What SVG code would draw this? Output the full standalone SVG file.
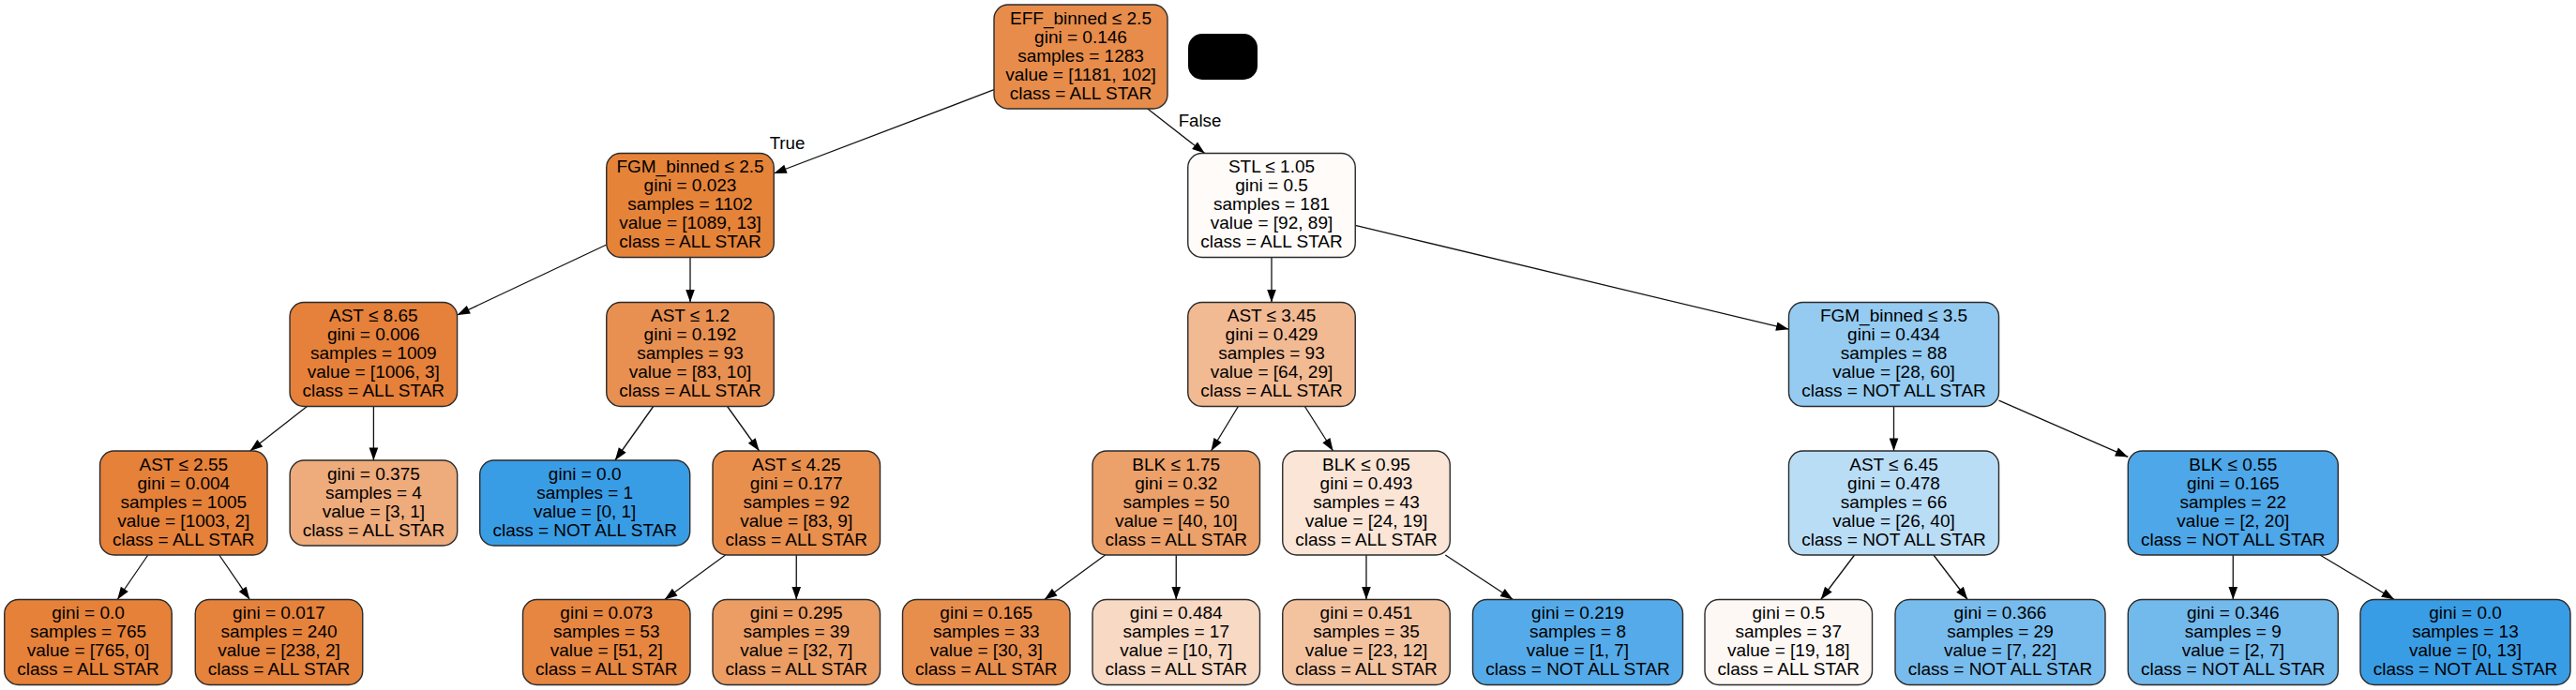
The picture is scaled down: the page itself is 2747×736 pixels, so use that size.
<svg xmlns="http://www.w3.org/2000/svg" width="2747" height="736" viewBox="0 0 2747 736">
<style>
.node rect{stroke:#2b2b2b;stroke-width:1.4}
text{font-family:"Liberation Sans",Arial,sans-serif;font-size:19px;fill:#000;text-anchor:middle}
.lbl{font-size:18.7px}
.edges line{stroke:#111;stroke-width:1.3;fill:none}
</style>
<defs>
<marker id="arr" markerWidth="14" markerHeight="10" refX="13.5" refY="5" orient="auto" markerUnits="userSpaceOnUse" overflow="visible">
<path d="M0,0.2 L13.5,5 L0,9.8 Z" fill="#000"/>
</marker>
</defs>
<rect width="2747" height="736" fill="#fff"/>
<g id="connectors" class="edges" marker-end="url(#arr)">
<line x1="1060" y1="95.7" x2="825.3" y2="185" marker-end="url(#arr)"/>
<line x1="1223.8" y1="116" x2="1284.7" y2="163.5" marker-end="url(#arr)"/>
<line x1="646.75" y1="261" x2="487.6" y2="336" marker-end="url(#arr)"/>
<line x1="736" y1="274.5" x2="736" y2="322.5" marker-end="url(#arr)"/>
<line x1="327.4" y1="433.5" x2="266.7" y2="481" marker-end="url(#arr)"/>
<line x1="398.4" y1="433.5" x2="398.4" y2="491" marker-end="url(#arr)"/>
<line x1="157.8" y1="592" x2="125.2" y2="639.5" marker-end="url(#arr)"/>
<line x1="233.8" y1="592" x2="266.3" y2="639.5" marker-end="url(#arr)"/>
<line x1="696.7" y1="433.5" x2="655.9" y2="491" marker-end="url(#arr)"/>
<line x1="775.6" y1="433.5" x2="809.6" y2="481" marker-end="url(#arr)"/>
<line x1="773.6" y1="592" x2="708.8" y2="639.5" marker-end="url(#arr)"/>
<line x1="849.25" y1="592" x2="849.25" y2="639.5" marker-end="url(#arr)"/>
<line x1="1356" y1="274.5" x2="1356" y2="322.5" marker-end="url(#arr)"/>
<line x1="1445.25" y1="240.4" x2="1907.5" y2="351.2" marker-end="url(#arr)"/>
<line x1="1320.4" y1="433.5" x2="1291.5" y2="481" marker-end="url(#arr)"/>
<line x1="1391.4" y1="433.5" x2="1421.6" y2="481" marker-end="url(#arr)"/>
<line x1="1178.6" y1="592" x2="1113.8" y2="639.5" marker-end="url(#arr)"/>
<line x1="1254.25" y1="592" x2="1254.25" y2="639.5" marker-end="url(#arr)"/>
<line x1="1457" y1="592" x2="1457" y2="639.5" marker-end="url(#arr)"/>
<line x1="1541.3" y1="592" x2="1613.4" y2="639.5" marker-end="url(#arr)"/>
<line x1="2019.5" y1="433.5" x2="2019.5" y2="481" marker-end="url(#arr)"/>
<line x1="2131.5" y1="427.1" x2="2269.3" y2="487.4" marker-end="url(#arr)"/>
<line x1="1977.6" y1="592" x2="1941.7" y2="639.5" marker-end="url(#arr)"/>
<line x1="2061.9" y1="592" x2="2098.2" y2="639.5" marker-end="url(#arr)"/>
<line x1="2381.3" y1="592" x2="2381.3" y2="639.5" marker-end="url(#arr)"/>
<line x1="2474" y1="592" x2="2553.2" y2="639.5" marker-end="url(#arr)"/>
<text class="lbl" x="839.5" y="159">True</text>
<text class="lbl" x="1279.5" y="135">False</text>
</g>
<g id="legend-blob"><rect x="1267" y="36" width="74" height="49" rx="15" fill="#000"/></g>
<g id="n0" class="node"><rect x="1060" y="5" width="185" height="111" rx="15" fill="#e78c4a"/>
<text x="1152.5" y="25.7">EFF_binned ≤ 2.5</text><text x="1152.5" y="45.7">gini = 0.146</text><text x="1152.5" y="65.7">samples = 1283</text><text x="1152.5" y="85.7">value = [1181, 102]</text><text x="1152.5" y="105.7">class = ALL STAR</text></g>
<g id="n1" class="node"><rect x="646.75" y="163.5" width="178.5" height="111" rx="15" fill="#e58339"/>
<text x="736" y="184.2">FGM_binned ≤ 2.5</text><text x="736" y="204.2">gini = 0.023</text><text x="736" y="224.2">samples = 1102</text><text x="736" y="244.2">value = [1089, 13]</text><text x="736" y="264.2">class = ALL STAR</text></g>
<g id="n2" class="node"><rect x="309.05" y="322.5" width="178.5" height="111" rx="15" fill="#e5813a"/>
<text x="398.3" y="343.2">AST ≤ 8.65</text><text x="398.3" y="363.2">gini = 0.006</text><text x="398.3" y="383.2">samples = 1009</text><text x="398.3" y="403.2">value = [1006, 3]</text><text x="398.3" y="423.2">class = ALL STAR</text></g>
<g id="n3" class="node"><rect x="106.55" y="481" width="178.5" height="111" rx="15" fill="#e58139"/>
<text x="195.8" y="501.7">AST ≤ 2.55</text><text x="195.8" y="521.7">gini = 0.004</text><text x="195.8" y="541.7">samples = 1005</text><text x="195.8" y="561.7">value = [1003, 2]</text><text x="195.8" y="581.7">class = ALL STAR</text></g>
<g id="n4" class="node"><rect x="4.75" y="639.5" width="178.5" height="91" rx="15" fill="#e58139"/>
<text x="94" y="660">gini = 0.0</text><text x="94" y="680">samples = 765</text><text x="94" y="700">value = [765, 0]</text><text x="94" y="720">class = ALL STAR</text></g>
<g id="n5" class="node"><rect x="208.25" y="639.5" width="178.5" height="91" rx="15" fill="#e5823b"/>
<text x="297.5" y="660">gini = 0.017</text><text x="297.5" y="680">samples = 240</text><text x="297.5" y="700">value = [238, 2]</text><text x="297.5" y="720">class = ALL STAR</text></g>
<g id="n6" class="node"><rect x="309.15" y="491" width="178.5" height="91" rx="15" fill="#eeab7b"/>
<text x="398.4" y="511.5">gini = 0.375</text><text x="398.4" y="531.5">samples = 4</text><text x="398.4" y="551.5">value = [3, 1]</text><text x="398.4" y="571.5">class = ALL STAR</text></g>
<g id="n7" class="node"><rect x="646.75" y="322.5" width="178.5" height="111" rx="15" fill="#e89051"/>
<text x="736" y="343.2">AST ≤ 1.2</text><text x="736" y="363.2">gini = 0.192</text><text x="736" y="383.2">samples = 93</text><text x="736" y="403.2">value = [83, 10]</text><text x="736" y="423.2">class = ALL STAR</text></g>
<g id="n8" class="node"><rect x="511.7" y="491" width="224" height="91" rx="15" fill="#399de5"/>
<text x="623.7" y="511.5">gini = 0.0</text><text x="623.7" y="531.5">samples = 1</text><text x="623.7" y="551.5">value = [0, 1]</text><text x="623.7" y="571.5">class = NOT ALL STAR</text></g>
<g id="n9" class="node"><rect x="760" y="481" width="178.5" height="111" rx="15" fill="#e88f4e"/>
<text x="849.25" y="501.7">AST ≤ 4.25</text><text x="849.25" y="521.7">gini = 0.177</text><text x="849.25" y="541.7">samples = 92</text><text x="849.25" y="561.7">value = [83, 9]</text><text x="849.25" y="581.7">class = ALL STAR</text></g>
<g id="n10" class="node"><rect x="557.5" y="639.5" width="178.5" height="91" rx="15" fill="#e68641"/>
<text x="646.75" y="660">gini = 0.073</text><text x="646.75" y="680">samples = 53</text><text x="646.75" y="700">value = [51, 2]</text><text x="646.75" y="720">class = ALL STAR</text></g>
<g id="n11" class="node"><rect x="760" y="639.5" width="178.5" height="91" rx="15" fill="#eb9d64"/>
<text x="849.25" y="660">gini = 0.295</text><text x="849.25" y="680">samples = 39</text><text x="849.25" y="700">value = [32, 7]</text><text x="849.25" y="720">class = ALL STAR</text></g>
<g id="n12" class="node"><rect x="1266.75" y="163.5" width="178.5" height="111" rx="15" fill="#fefbf9"/>
<text x="1356" y="184.2">STL ≤ 1.05</text><text x="1356" y="204.2">gini = 0.5</text><text x="1356" y="224.2">samples = 181</text><text x="1356" y="244.2">value = [92, 89]</text><text x="1356" y="264.2">class = ALL STAR</text></g>
<g id="n13" class="node"><rect x="1266.75" y="322.5" width="178.5" height="111" rx="15" fill="#f1ba93"/>
<text x="1356" y="343.2">AST ≤ 3.45</text><text x="1356" y="363.2">gini = 0.429</text><text x="1356" y="383.2">samples = 93</text><text x="1356" y="403.2">value = [64, 29]</text><text x="1356" y="423.2">class = ALL STAR</text></g>
<g id="n14" class="node"><rect x="1165" y="481" width="178.5" height="111" rx="15" fill="#eca06a"/>
<text x="1254.25" y="501.7">BLK ≤ 1.75</text><text x="1254.25" y="521.7">gini = 0.32</text><text x="1254.25" y="541.7">samples = 50</text><text x="1254.25" y="561.7">value = [40, 10]</text><text x="1254.25" y="581.7">class = ALL STAR</text></g>
<g id="n15" class="node"><rect x="962.5" y="639.5" width="178.5" height="91" rx="15" fill="#e88e4d"/>
<text x="1051.75" y="660">gini = 0.165</text><text x="1051.75" y="680">samples = 33</text><text x="1051.75" y="700">value = [30, 3]</text><text x="1051.75" y="720">class = ALL STAR</text></g>
<g id="n16" class="node"><rect x="1165" y="639.5" width="178.5" height="91" rx="15" fill="#f7d9c4"/>
<text x="1254.25" y="660">gini = 0.484</text><text x="1254.25" y="680">samples = 17</text><text x="1254.25" y="700">value = [10, 7]</text><text x="1254.25" y="720">class = ALL STAR</text></g>
<g id="n17" class="node"><rect x="1367.75" y="481" width="178.5" height="111" rx="15" fill="#fae5d6"/>
<text x="1457" y="501.7">BLK ≤ 0.95</text><text x="1457" y="521.7">gini = 0.493</text><text x="1457" y="541.7">samples = 43</text><text x="1457" y="561.7">value = [24, 19]</text><text x="1457" y="581.7">class = ALL STAR</text></g>
<g id="n18" class="node"><rect x="1367.75" y="639.5" width="178.5" height="91" rx="15" fill="#f3c3a0"/>
<text x="1457" y="660">gini = 0.451</text><text x="1457" y="680">samples = 35</text><text x="1457" y="700">value = [23, 12]</text><text x="1457" y="720">class = ALL STAR</text></g>
<g id="n19" class="node"><rect x="1570.5" y="639.5" width="224" height="91" rx="15" fill="#55abe9"/>
<text x="1682.5" y="660">gini = 0.219</text><text x="1682.5" y="680">samples = 8</text><text x="1682.5" y="700">value = [1, 7]</text><text x="1682.5" y="720">class = NOT ALL STAR</text></g>
<g id="n20" class="node"><rect x="1907.5" y="322.5" width="224" height="111" rx="15" fill="#95cbf1"/>
<text x="2019.5" y="343.2">FGM_binned ≤ 3.5</text><text x="2019.5" y="363.2">gini = 0.434</text><text x="2019.5" y="383.2">samples = 88</text><text x="2019.5" y="403.2">value = [28, 60]</text><text x="2019.5" y="423.2">class = NOT ALL STAR</text></g>
<g id="n21" class="node"><rect x="1907.5" y="481" width="224" height="111" rx="15" fill="#baddf6"/>
<text x="2019.5" y="501.7">AST ≤ 6.45</text><text x="2019.5" y="521.7">gini = 0.478</text><text x="2019.5" y="541.7">samples = 66</text><text x="2019.5" y="561.7">value = [26, 40]</text><text x="2019.5" y="581.7">class = NOT ALL STAR</text></g>
<g id="n22" class="node"><rect x="1818" y="639.5" width="178.5" height="91" rx="15" fill="#fef8f5"/>
<text x="1907.25" y="660">gini = 0.5</text><text x="1907.25" y="680">samples = 37</text><text x="1907.25" y="700">value = [19, 18]</text><text x="1907.25" y="720">class = ALL STAR</text></g>
<g id="n23" class="node"><rect x="2021" y="639.5" width="224" height="91" rx="15" fill="#78bced"/>
<text x="2133" y="660">gini = 0.366</text><text x="2133" y="680">samples = 29</text><text x="2133" y="700">value = [7, 22]</text><text x="2133" y="720">class = NOT ALL STAR</text></g>
<g id="n24" class="node"><rect x="2269.3" y="481" width="224" height="111" rx="15" fill="#4da7e8"/>
<text x="2381.3" y="501.7">BLK ≤ 0.55</text><text x="2381.3" y="521.7">gini = 0.165</text><text x="2381.3" y="541.7">samples = 22</text><text x="2381.3" y="561.7">value = [2, 20]</text><text x="2381.3" y="581.7">class = NOT ALL STAR</text></g>
<g id="n25" class="node"><rect x="2269.3" y="639.5" width="224" height="91" rx="15" fill="#72b9ec"/>
<text x="2381.3" y="660">gini = 0.346</text><text x="2381.3" y="680">samples = 9</text><text x="2381.3" y="700">value = [2, 7]</text><text x="2381.3" y="720">class = NOT ALL STAR</text></g>
<g id="n26" class="node"><rect x="2517" y="639.5" width="224" height="91" rx="15" fill="#399de5"/>
<text x="2629" y="660">gini = 0.0</text><text x="2629" y="680">samples = 13</text><text x="2629" y="700">value = [0, 13]</text><text x="2629" y="720">class = NOT ALL STAR</text></g>
</svg>
